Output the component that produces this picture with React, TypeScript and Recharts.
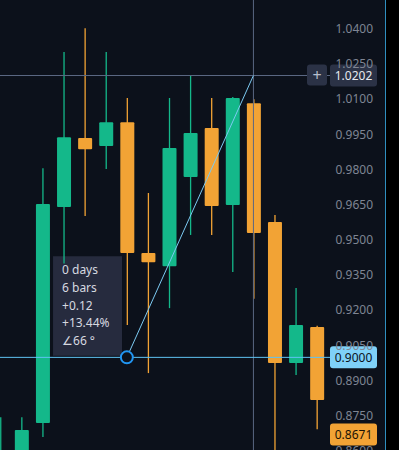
import React from "react";
import {
  ComposedChart,
  Bar,
  XAxis,
  YAxis,
  ReferenceLine,
  ReferenceDot,
  ReferenceArea,
} from "recharts";

// candle index (x), open, high, low, close
const idx = [0, 1, 2, 3, 4, 5, 6, 7, 8, 9, 10, 11, 12, 13, 14, 15];
const opens = [0.852, 0.855, 0.872, 0.9641, 0.9935, 0.9901, 1.0003, 0.9445, 0.9389, 0.9769, 0.9978, 0.965, 1.0084, 0.9577, 0.8976, 0.9129];
const highs = [0.8745, 0.8745, 0.9807, 1.0302, 1.0404, 1.0302, 1.0106, 0.9701, 1.0106, 1.0204, 1.0106, 1.011, 1.0101, 0.9607, 0.9296, 0.9135];
const lows = [0.85, 0.852, 0.866, 0.94, 0.9603, 0.9803, 0.9138, 0.8933, 0.921, 0.9522, 0.9522, 0.9364, 0.925, 0.855, 0.8925, 0.8694];
const closes = [0.858, 0.869, 0.9654, 0.9939, 0.9888, 1.0003, 0.9445, 0.9406, 0.9893, 0.9957, 0.9645, 1.0106, 0.953, 0.8976, 0.9138, 0.8818];

const yTicks = [0.86, 0.875, 0.89, 0.905, 0.92, 0.935, 0.95, 0.965, 0.98, 0.995, 1.01, 1.025, 1.04];
const yDomain = [0.8605, 1.0524];
const xDomain = [-0.014, 15.63];

const crossPrice = 1.0202;
const crossIndex = 12;
const startPrice = 0.9;
const startIndex = 6;
const lastPrice = 0.8671;
const infoLines = ["0 days", "6 bars", "+0.12", "+13.44%", "\u222066 \u00b0"];
const infoBox = { x1: 2.5, x2: 5.77, y1: 0.9007, y2: 0.9431 };

const data = idx.map((i, k) => ({
  i,
  open: opens[k],
  high: highs[k],
  low: lows[k],
  close: closes[k],
  range: [lows[k], highs[k]],
}));

const BG = "#0c111b";
const UP = "#14b88a";
const DOWN = "#f2a335";
const FONT = "'Noto Sans', 'Open Sans', sans-serif";

const Candle = (props: any) => {
  const { x, y, width, height, payload } = props;
  const { open, high, low, close } = payload;
  const ppu = height / (high - low);
  const yOf = (v: number) => y + (high - v) * ppu;
  const cx = x + width / 2;
  const color = close >= open ? UP : DOWN;
  const top = yOf(Math.max(open, close));
  const bot = yOf(Math.min(open, close));
  return (
    <g>
      <line x1={cx} x2={cx} y1={yOf(high)} y2={yOf(low)} stroke={color} strokeWidth={1.3} />
      <rect x={cx - 7} y={top} width={14} height={Math.max(bot - top, 1)} fill={color} rx={1} />
    </g>
  );
};

const Tick = (props: any) => {
  const { x, y, payload } = props;
  return (
    <text x={x + 43} y={y} dy={4} textAnchor="end" fill="#7f8593" fontSize={12} fontFamily={FONT}>
      {payload.value.toFixed(4)}
    </text>
  );
};

const priceBox = (text: string, fill: string, color: string, plus = false) => (p: any) => {
  const vb = p.viewBox || {};
  const right = vb.x + vb.width;
  const cy = vb.y;
  return (
    <g>
      {plus && (
        <g>
          <rect x={right - 23} y={cy - 11} width={20} height={21} rx={3} fill="#2b3246" />
          <text x={right - 13} y={cy} dy={5} textAnchor="middle" fill="#b8bfcc" fontSize={16} fontFamily={FONT}>
            +
          </text>
        </g>
      )}
      <rect x={right} y={cy - 11} width={47} height={22} rx={3} fill={fill} />
      <text x={right + 23.5} y={cy} dy={4.5} textAnchor="middle" fill={color} fontSize={12} fontFamily={FONT}>
        {text}
      </text>
    </g>
  );
};

const InfoLabel = (p: any) => {
  const vb = p.viewBox || {};
  return (
    <g>
      {infoLines.map((t, k) => (
        <text key={k} x={vb.x + 9} y={vb.y + 18 + k * 17.7} fill="#d6d9e0" fontSize={12} fontFamily={FONT}>
          {t}
        </text>
      ))}
    </g>
  );
};

export default function App() {
  return (
    <div style={{ position: "absolute", left: 0, top: 0, width: 399, height: 450, background: "#000", overflow: "hidden" }}>
      <div style={{ position: "absolute", left: 0, top: 0, width: 385, height: 450, background: BG }} />
      <div style={{ position: "absolute", left: 385, top: 0, width: 1, height: 450, background: "#2f8fbf" }} />
      <div style={{ position: "absolute", left: 0, top: 0 }}>
        <ComposedChart width={385} height={450} data={data} margin={{ top: 0, right: 0, bottom: 0, left: 0 }}>
          <XAxis dataKey="i" type="number" domain={xDomain} allowDataOverflow hide />
          <YAxis
            orientation="right"
            width={55}
            domain={yDomain}
            allowDataOverflow
            ticks={yTicks}
            interval={0}
            axisLine={false}
            tickLine={false}
            tickSize={0}
            tickMargin={0}
            tick={<Tick />}
          />
          <ReferenceLine x={crossIndex} stroke="#5a6782" strokeWidth={1} />
          <Bar dataKey="range" barSize={14} shape={<Candle />} isAnimationActive={false} />
          <ReferenceLine y={crossPrice} stroke="#5a6782" strokeWidth={1} label={priceBox("1.0202", "#2b3246", "#e6e9ef", true)} />
          <ReferenceLine
            segment={[
              { x: startIndex, y: startPrice },
              { x: crossIndex, y: crossPrice },
            ]}
            stroke="#7ccaf2"
            strokeWidth={1}
          />
          <ReferenceLine y={startPrice} stroke="#5fc3f3" strokeWidth={1} label={priceBox("0.9000", "#7fd1f8", "#0c111b")} />
          <ReferenceLine y={lastPrice} stroke="none" strokeOpacity={0} label={priceBox("0.8671", DOWN, "#1a1204")} />
          <ReferenceArea
            x1={infoBox.x1}
            x2={infoBox.x2}
            y1={infoBox.y1}
            y2={infoBox.y2}
            fill="#262b3e"
            fillOpacity={1}
            stroke="none"
            label={InfoLabel}
          />
          <ReferenceDot x={startIndex} y={startPrice} r={6} fill={BG} stroke="#2196f3" strokeWidth={2} />
        </ComposedChart>
      </div>
    </div>
  );
}
